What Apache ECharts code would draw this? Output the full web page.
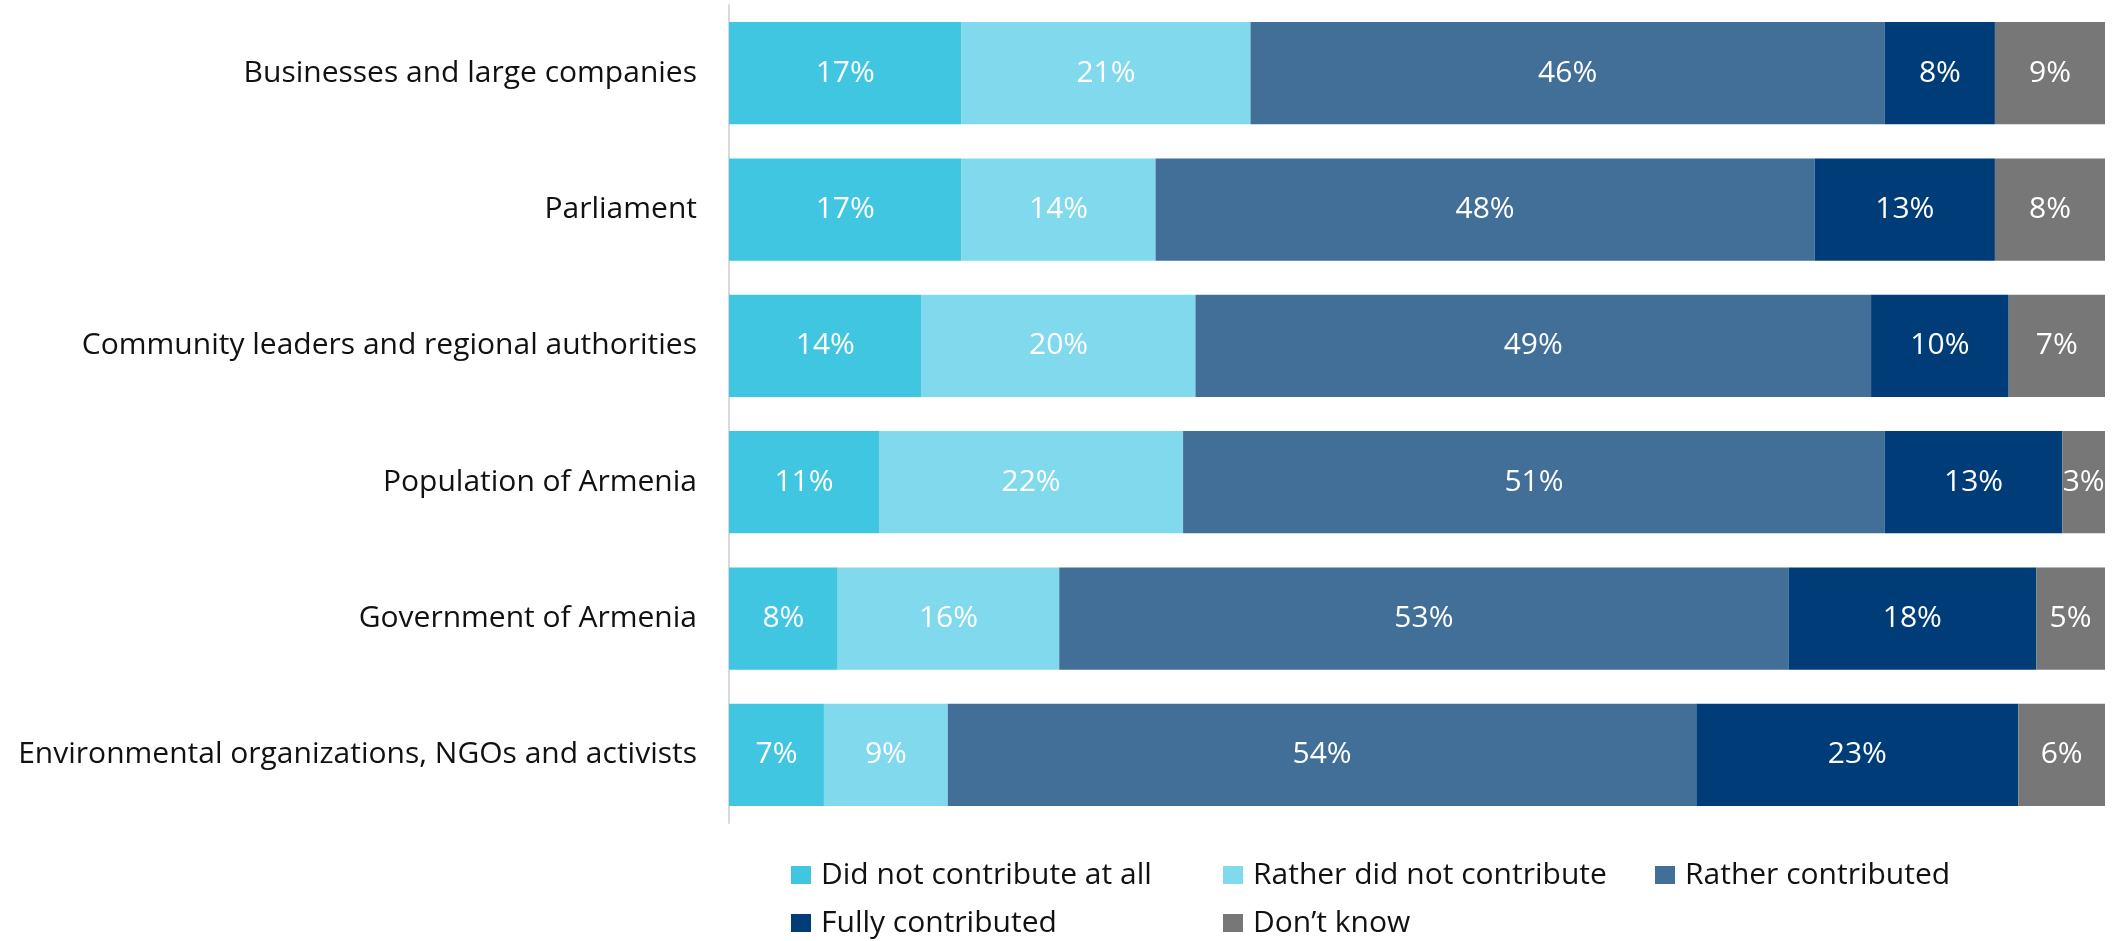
<!DOCTYPE html>
<html>
<head>
<meta charset="utf-8">
<script src="https://cdn.jsdelivr.net/npm/echarts@6/dist/echarts.min.js"></script>
<style>
  html, body { margin: 0; padding: 0; background: #fff; }
  #chart { width: 2125px; height: 941px; }
</style>
</head>
<body>
<div id="chart"></div>
<script>
// categories, top to bottom
const categories = [
  'Businesses and large companies',
  'Parliament',
  'Community leaders and regional authorities',
  'Population of Armenia',
  'Government of Armenia',
  'Environmental organizations, NGOs and activists'
];

// shares in % (labels show them rounded)
const didNotContribute = [16.9, 16.9, 14.0, 10.9, 7.9, 6.9];
const ratherDidNot = [21.0, 14.1, 19.9, 22.1, 16.1, 9.0];
const ratherContributed = [46.1, 47.9, 49.1, 51.0, 53.0, 54.4];
const fullyContributed = [8.0, 13.1, 10.0, 12.9, 18.0, 23.4];
const dontKnow = [8.6, 8.0, 7.0, 3.1, 5.0, 6.4];

const seriesNames = ['Did not contribute at all', 'Rather did not contribute', 'Rather contributed', 'Fully contributed', 'Don\u2019t know'];
const seriesValues = [didNotContribute, ratherDidNot, ratherContributed, fullyContributed, dontKnow];
const colors = ['#41C6E2', '#80D9EC', '#416F98', '#003D78', '#777777'];

const FONT = '"Open Sans", "Noto Sans", sans-serif';

const chart = echarts.init(document.getElementById('chart'));

const series = seriesNames.map((name, k) => ({
  name: name,
  type: 'bar',
  stack: 'total',
  barWidth: '75%',
  clip: true,
  itemStyle: { color: colors[k] },
  label: {
    show: true,
    position: 'inside',
    color: '#fff',
    fontFamily: FONT,
    fontSize: 30,
    formatter: p => Math.round(p.value) + '%'
  },
  emphasis: { disabled: true },
  data: seriesValues[k]
}));

// one vertical legend per column so the two rows line up like the original
const legendBase = {
  orient: 'vertical',
  top: 860,
  height: 200,
  padding: 0,
  itemWidth: 20,
  itemHeight: 18,
  itemGap: 18,
  icon: 'rect',
  textStyle: { fontFamily: FONT, fontSize: 30, lineHeight: 30, color: '#111', padding: [0, 0, 0, 5] }
};

chart.setOption({
  animation: false,
  color: colors,
  grid: { left: 729, right: 20, top: 5, bottom: 118, containLabel: false },
  legend: [
    Object.assign({}, legendBase, { left: 791, data: [seriesNames[0], seriesNames[3]] }),
    Object.assign({}, legendBase, { left: 1223, data: [seriesNames[1], seriesNames[4]] }),
    Object.assign({}, legendBase, { left: 1655, data: [seriesNames[2]] })
  ],
  xAxis: {
    type: 'value',
    min: 0,
    max: 100,
    show: false
  },
  yAxis: {
    type: 'category',
    inverse: true,
    data: categories,
    axisLine: { show: true, lineStyle: { color: '#D9D9D9', width: 2 } },
    axisTick: { show: false },
    axisLabel: { margin: 32, color: '#111', fontFamily: FONT, fontSize: 30 }
  },
  series: series
});
</script>
</body>
</html>
